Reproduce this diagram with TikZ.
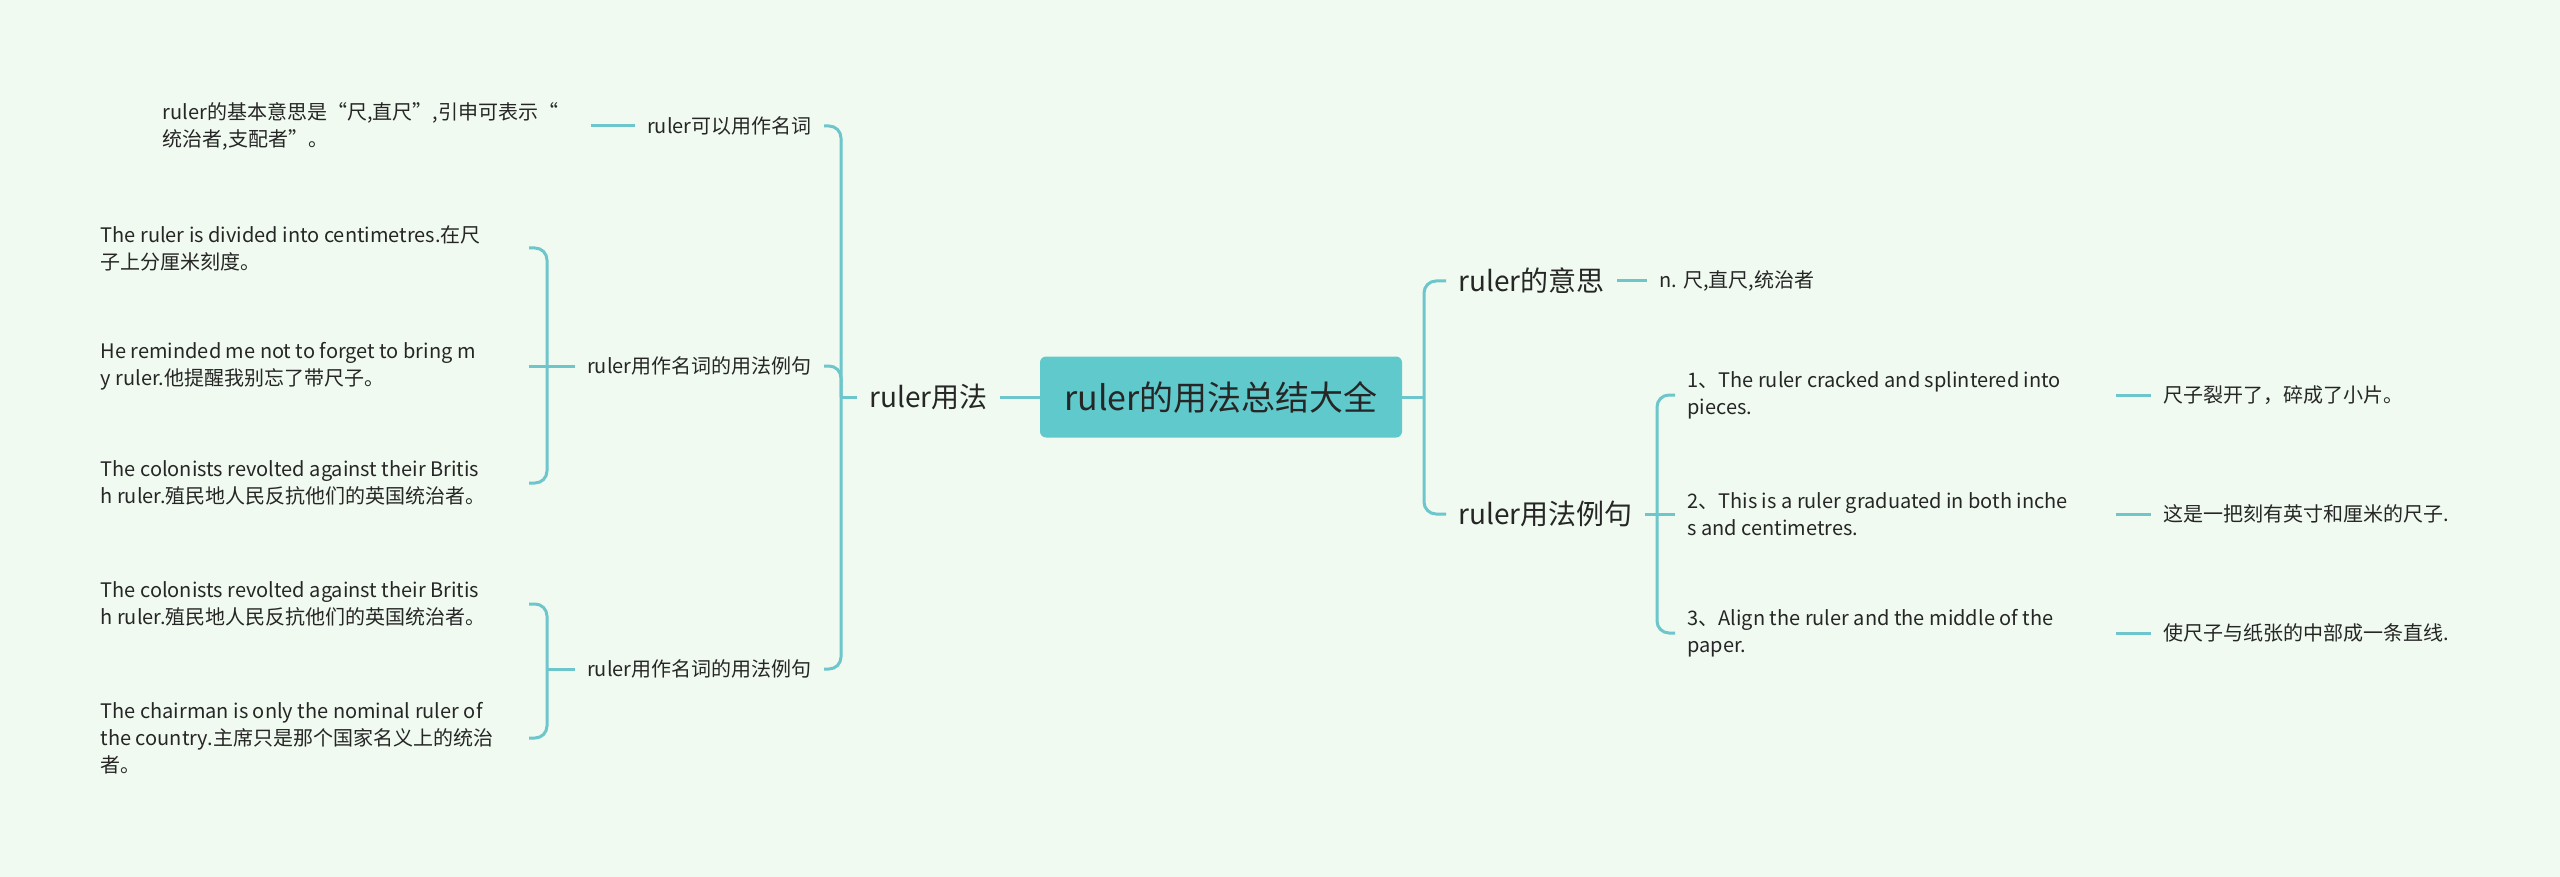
\documentclass[tikz,border=0pt]{standalone}
\usepackage{fontspec}
\setmainfont{Noto Sans CJK SC}
\usetikzlibrary{positioning}
\definecolor{mmbg}{HTML}{F0FAF0}
\definecolor{mmline}{HTML}{6CC6CB}
\definecolor{mmroot}{HTML}{60C9CC}
\definecolor{mmtext}{HTML}{262626}

\begin{document}
\begin{tikzpicture}[x=0.5pt, y=-0.5pt, text=mmtext,
    link/.style={draw=mmline, line width=1.5pt, rounded corners=6pt},
    root/.style={fill=mmroot, rounded corners=3pt, minimum width=181pt, minimum height=40.5pt, font=\fontsize{17}{20}\selectfont},
    topic/.style={inner xsep=6pt, font=\fontsize{14}{17}\selectfont},
    sub/.style={inner xsep=6pt, font=\fontsize{10}{13.5}\selectfont},
    leaf/.style={sub, text width=208pt, align=flush left}]
            \fill[mmbg] (0,0) rectangle (2560,877);
            \useasboundingbox (0,0) rectangle (2560,877);
            \coordinate (lbar) at (841,0);
            \coordinate (bbar) at (547,0);
            \coordinate (rbar) at (1424,0);
            \coordinate (ebar) at (1657,0);
            \node[root] (0) at (1221,397) {ruler的用法总结大全};
            \node[topic, anchor=east] (1) at (1000,397) {ruler用法};
            \node[topic, anchor=west] (2) at (1446,281) {ruler的意思};
            \node[topic, anchor=west] (3) at (1446,514) {ruler用法例句};
            \node[sub, anchor=east] (4) at (824,126) {ruler可以用作名词};
            \node[sub, anchor=east] (5) at (824,366) {ruler用作名词的用法例句};
            \node[sub, anchor=east] (6) at (824,669) {ruler用作名词的用法例句};
            \node[leaf, anchor=east] (7) at (591,126) {ruler的基本意思是“尺,直尺”,引申可表示“\\统治者,支配者”。};
            \node[leaf, anchor=east] (8) at (529,248) {The ruler is divided into centimetres.在尺\\子上分厘米刻度。};
            \node[leaf, anchor=east] (9) at (529,366) {He reminded me not to forget to bring m\\y ruler.他提醒我别忘了带尺子。};
            \node[leaf, anchor=east] (10) at (529,483) {The colonists revolted against their Britis\\h ruler.殖民地人民反抗他们的英国统治者。};
            \node[leaf, anchor=east] (11) at (529,604) {The colonists revolted against their Britis\\h ruler.殖民地人民反抗他们的英国统治者。};
            \node[leaf, anchor=east] (12) at (529,738) {The chairman is only the nominal ruler of\\the country.主席只是那个国家名义上的统治\\者。};
            \node[sub, anchor=west] (13) at (1647,281) {n. 尺,直尺,统治者};
            \node[leaf, anchor=west] (14) at (1675,395) {1、The ruler cracked and splintered into\\pieces.};
            \node[leaf, anchor=west] (15) at (1675,514) {2、This is a ruler graduated in both inche\\s and centimetres.};
            \node[leaf, anchor=west] (16) at (1675,633) {3、Align the ruler and the middle of the\\paper.};
            \node[sub, anchor=west] (17) at (2151,395) {尺子裂开了，碎成了小片。};
            \node[sub, anchor=west] (18) at (2151,514) {这是一把刻有英寸和厘米的尺子.};
            \node[sub, anchor=west] (19) at (2151,633) {使尺子与纸张的中部成一条直线.};
            \draw[link] (0.west) -- (1.east);
            \draw[link] (1.west) -- (1.west -| lbar);
            \draw[link] (1.west -| lbar) |- (4.east);
            \draw[link] (1.west -| lbar) |- (5.east);
            \draw[link] (1.west -| lbar) |- (6.east);
            \draw[link] (4.west) -- (7.east);
            \draw[link] (5.west) -- (9.east);
            \draw[link] (5.west -| bbar) |- (8.east);
            \draw[link] (5.west -| bbar) |- (10.east);
            \draw[link] (6.west) -- (6.west -| bbar);
            \draw[link] (6.west -| bbar) |- (11.east);
            \draw[link] (6.west -| bbar) |- (12.east);
            \draw[link] (0.east) -- (0.east -| rbar);
            \draw[link] (0.east -| rbar) |- (2.west);
            \draw[link] (0.east -| rbar) |- (3.west);
            \draw[link] (2.east) -- (13.west);
            \draw[link] (3.east) -- (15.west);
            \draw[link] (3.east -| ebar) |- (14.west);
            \draw[link] (3.east -| ebar) |- (16.west);
            \draw[link] (14.east) -- (17.west);
            \draw[link] (15.east) -- (18.west);
            \draw[link] (16.east) -- (19.west);
        \end{tikzpicture}
\end{document}
